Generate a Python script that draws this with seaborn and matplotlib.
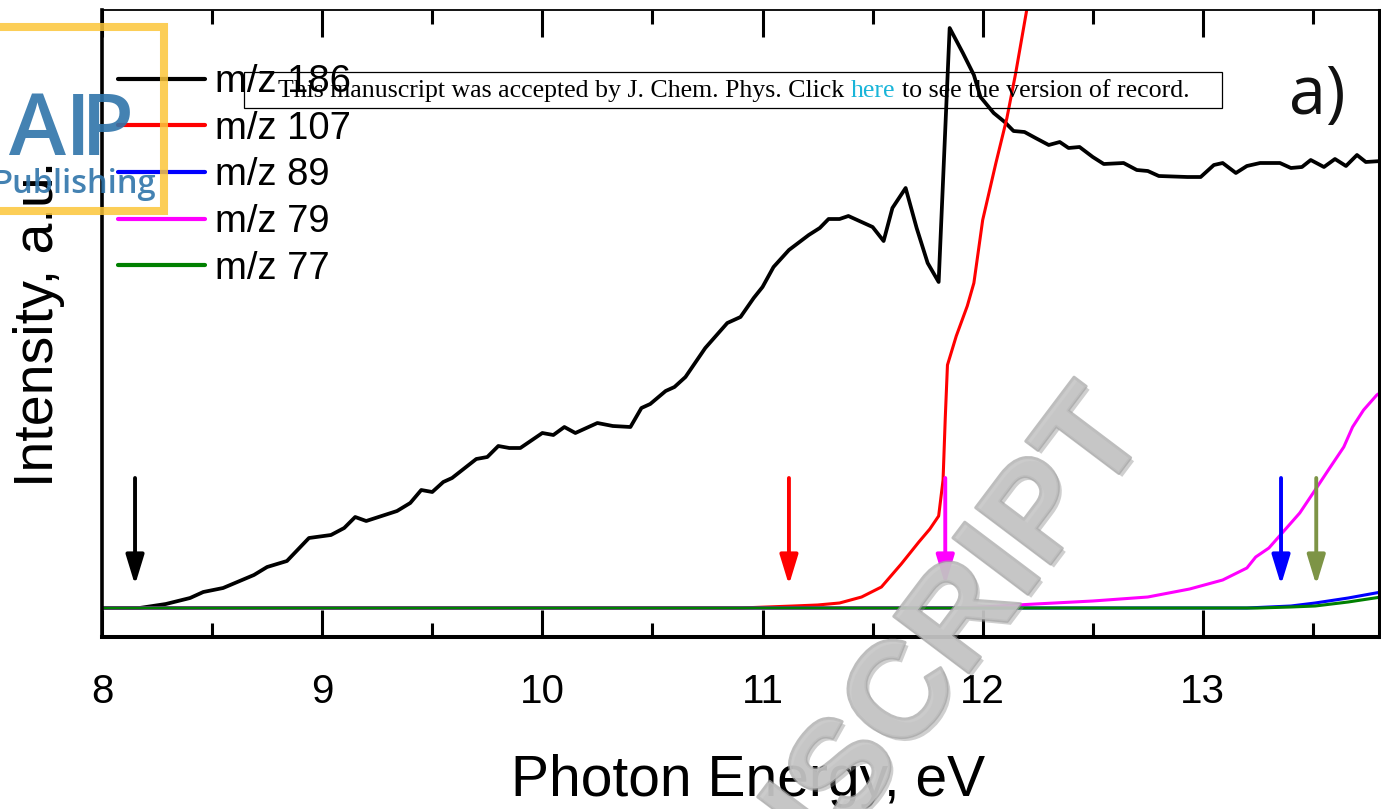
import matplotlib
matplotlib.use("Agg")
import numpy as np
import pandas as pd
import seaborn as sns
import matplotlib.pyplot as plt
from matplotlib.ticker import MultipleLocator
from matplotlib.lines import Line2D
from matplotlib.patches import Rectangle
import matplotlib.patheffects as pe

sns.set_theme(style="ticks")
plt.rcParams["font.family"] = ["Liberation Sans", "DejaVu Sans"]
plt.rcParams["text.color"] = "black"
plt.rcParams["axes.labelcolor"] = "black"
plt.rcParams["xtick.color"] = "black"

# ---- photoionization yield curves (photon energy in eV, intensity in a.u.) ----
energy_186 = [8.00, 8.17, 8.29, 8.40, 8.46, 8.55, 8.69, 8.75, 8.84, 8.94, 9.04, 9.10,
              9.15, 9.20, 9.34, 9.40, 9.45, 9.50, 9.55, 9.59, 9.70, 9.75, 9.80, 9.85,
              9.90, 10.00, 10.05, 10.10, 10.15, 10.25, 10.32, 10.40, 10.45, 10.49, 10.56,
              10.60, 10.65, 10.74, 10.84, 10.90, 10.96, 11.00, 11.05, 11.12, 11.21, 11.26,
              11.30, 11.35, 11.39, 11.46, 11.50, 11.55, 11.59, 11.65, 11.70, 11.75, 11.80,
              11.85, 11.91, 11.96, 11.99, 12.05, 12.10, 12.14, 12.19, 12.24, 12.30, 12.35,
              12.39, 12.44, 12.50, 12.55, 12.64, 12.70, 12.75, 12.80, 12.93, 12.99, 13.05,
              13.09, 13.15, 13.20, 13.26, 13.35, 13.40, 13.45, 13.49, 13.55, 13.60, 13.65,
              13.70, 13.74, 13.81]
signal_186 = [0.00, 0.00, 0.04, 0.10, 0.16, 0.20, 0.33, 0.41, 0.47, 0.70, 0.73, 0.80,
              0.91, 0.87, 0.97, 1.05, 1.18, 1.16, 1.26, 1.30, 1.49, 1.51, 1.62, 1.60,
              1.60, 1.75, 1.73, 1.81, 1.75, 1.85, 1.82, 1.81, 2.00, 2.04, 2.17,
              2.21, 2.31, 2.60, 2.85, 2.91, 3.10, 3.21, 3.41, 3.58, 3.73, 3.80,
              3.89, 3.89, 3.92, 3.85, 3.81, 3.67, 4.00, 4.20, 3.80, 3.45, 3.26,
              5.80, 5.55, 5.33, 5.11, 4.95, 4.86, 4.77, 4.76, 4.70, 4.63, 4.66,
              4.60, 4.61, 4.51, 4.44, 4.45, 4.38, 4.37, 4.32, 4.31, 4.31, 4.43,
              4.45, 4.35, 4.42, 4.45, 4.45, 4.40, 4.41, 4.48, 4.41, 4.49, 4.42,
              4.53, 4.46, 4.47]

energy_107 = [8.00, 10.00, 10.90, 11.02, 11.14, 11.25, 11.35, 11.45, 11.54, 11.63, 11.71,
              11.76, 11.80, 11.82, 11.83, 11.84, 11.88, 11.93, 11.96, 12.00, 12.06, 12.11,
              12.15, 12.20, 12.25]
signal_107 = [0.00, 0.00, 0.00, 0.01, 0.02, 0.03, 0.05, 0.11, 0.21, 0.44, 0.66,
              0.79, 0.92, 1.28, 1.90, 2.43, 2.72, 3.02, 3.25, 3.88, 4.45, 4.90,
              5.35, 5.98, 6.50]

energy_89 = [8.00, 13.20, 13.40, 13.51, 13.66, 13.81]
signal_89 = [0.00, 0.00, 0.02, 0.05, 0.10, 0.16]

energy_79 = [8.00, 11.90, 11.99, 12.24, 12.50, 12.75, 12.94, 13.09, 13.20, 13.24, 13.30,
             13.36, 13.44, 13.51, 13.57, 13.64, 13.68, 13.73, 13.79, 13.81]
signal_79 = [0.00, 0.00, 0.01, 0.04, 0.07, 0.11, 0.19, 0.28, 0.40, 0.51, 0.60,
             0.75, 0.95, 1.18, 1.38, 1.61, 1.81, 1.98, 2.13, 2.16]

energy_77 = [8.00, 13.25, 13.40, 13.51, 13.66, 13.81]
signal_77 = [0.00, 0.00, 0.01, 0.02, 0.06, 0.11]

ion_labels = ["m/z 186", "m/z 107", "m/z 89", "m/z 79", "m/z 77"]
ion_colors = ["#000000", "#ff0000", "#0000ff", "#ff00ff", "#008000"]

# appearance energies marked with arrows
onset_energy = [8.15, 11.12, 11.83, 13.355, 13.515]
onset_colors = ["#000000", "#ff0000", "#ff00ff", "#0000ff", "#7d9446"]

x_ticks = [8, 9, 10, 11, 12, 13]

# ---- long-form table for seaborn ----
frames = []
for lab, xs, ys in zip(ion_labels,
                       [energy_186, energy_107, energy_89, energy_79, energy_77],
                       [signal_186, signal_107, signal_89, signal_79, signal_77]):
    frames.append(pd.DataFrame({"energy": xs, "intensity": ys, "ion": lab}))
df = pd.concat(frames, ignore_index=True)

W, H, DPI = 1381, 809, 100
fig = plt.figure(figsize=(W / DPI, H / DPI), dpi=DPI)
fig.patch.set_facecolor("white")


def fpos(x, y):
    """pixel position (origin top-left) -> figure fraction"""
    return x / W, 1 - y / H


ax = fig.add_axes([102 / W, 1 - 637 / H, 1277 / W, 627 / H])
ax.set_facecolor("white")

sns.lineplot(data=df, x="energy", y="intensity", hue="ion", hue_order=ion_labels,
             palette=dict(zip(ion_labels, ion_colors)), estimator=None, sort=False,
             linewidth=2.3, legend=False, ax=ax)
for line, lab in zip(ax.get_lines(), ion_labels):
    line.set_linewidth(2.7 if lab == "m/z 186" else 2.2)
    line.set_solid_joinstyle("round")

ax.set_xlim(8, 13.8)
ax.set_ylim(-0.29, 5.98)

# onset arrows
for xe, c in zip(onset_energy, onset_colors):
    ax.annotate("", xy=(xe, 0.23), xytext=(xe, 1.30),
                arrowprops=dict(arrowstyle="-|>,head_length=1.8,head_width=0.55",
                                color=c, lw=2.8, shrinkA=0, shrinkB=0,
                                mutation_scale=10),
                zorder=5)

# axes, ticks
ax.set_xticks(x_ticks)
ax.xaxis.set_minor_locator(MultipleLocator(0.5))
ax.set_yticks([])
ax.tick_params(axis="x", which="both", direction="in", top=True, bottom=True,
               width=2.2, color="black", labelcolor="black", labelsize=29, pad=26)
ax.tick_params(axis="x", which="major", length=19.5)
ax.tick_params(axis="x", which="minor", length=10)
for side, lw in [("left", 2.6), ("bottom", 2.9), ("right", 2.2), ("top", 1.3)]:
    ax.spines[side].set_visible(True)
    ax.spines[side].set_color("black")
    ax.spines[side].set_linewidth(lw)

ax.set_xlabel("Photon Energy, eV", fontsize=41, color="black")
ax.xaxis.set_label_coords(0.506, -0.186)
ax.xaxis.label.set_verticalalignment("top")
ax.set_ylabel("Intensity, a.u.", fontsize=40, color="black")
ax.yaxis.set_label_coords(-0.029, 0.5)

handles = [Line2D([0], [0], color=c, lw=3.0) for c in ion_colors]
leg = ax.legend(handles, ion_labels, loc="upper left", bbox_to_anchor=(0.0125, 0.914),
                frameon=False, fontsize=27.5, handlelength=2.28, handletextpad=0.26,
                labelspacing=0.28, borderpad=0, borderaxespad=0)
for t in leg.get_texts():
    t.set_color("black")

# panel tag
fig.text(*fpos(1289, 114), "a)", fontsize=48, family="Open Sans", color="#111111",
         ha="left", va="baseline")

# ---- publisher overlays ----
# acceptance notice box
fig.add_artist(Rectangle(fpos(244, 108), (1222 - 244) / W, 36 / H,
                         transform=fig.transFigure, fill=False, ec="black", lw=0.9,
                         zorder=30))
notice_parts = [("This manuscript was accepted by J. Chem. Phys. Click", "black"),
                ("here", "#19b5d9"),
                ("to see the version of record.", "black")]
renderer = fig.canvas.get_renderer()


def lay_out_notice(fs, x_start, baseline):
    probe = fig.text(0, 0, "aa", fontsize=fs, family="Liberation Serif")
    w_aa = probe.get_window_extent(renderer).width
    probe.set_text("a a")
    space_w = probe.get_window_extent(renderer).width - w_aa
    probe.remove()
    x_cursor = x_start
    made = []
    for txt, col in notice_parts:
        t = fig.text(*fpos(x_cursor, baseline), txt, fontsize=fs,
                     family="Liberation Serif", color=col, ha="left",
                     va="baseline", zorder=31)
        made.append(t)
        x_cursor += t.get_window_extent(renderer).width + space_w
    return made, x_cursor - space_w - x_start


made, span = lay_out_notice(18.0, 278, 97)
fs_fit = 18.0 * 912.0 / span
for t in made:
    t.remove()
lay_out_notice(fs_fit, 278, 97)

# AIP Publishing logo
fig.add_artist(Rectangle(fpos(-20, 211), 184 / W, (211 - 27) / H,
                         transform=fig.transFigure, fill=False, ec="#fcc63a",
                         lw=5.8, alpha=0.85, zorder=32))
logo_blue = "#2f74aa"
for letter, xl, ha in [("A", 66, "right"), ("I", 78, "center"), ("P", 134, "right")]:
    fig.text(*fpos(xl, 155), letter, fontsize=62, family="Open Sans",
             fontweight="semibold", color=logo_blue, alpha=0.9, ha=ha,
             va="baseline", zorder=33)
fig.text(*fpos(156, 193), "Publishing", fontsize=23.5, family="Open Sans",
         fontweight="semibold", color=logo_blue, alpha=0.9, ha="right",
         va="baseline", zorder=33)

# diagonal watermark
fig.text(*fpos(1150, 432), "ACCEPTED MANUSCRIPT", fontsize=98,
         family="Liberation Sans", fontweight="bold", color="#c6c6c6", alpha=0.7,
         rotation=53, rotation_mode="anchor", ha="right", va="baseline", zorder=40,
         path_effects=[pe.SimplePatchShadow(offset=(2.5, -2.5), shadow_rgbFace="#888888",
                                            alpha=0.4),
                       pe.Stroke(linewidth=2.2, foreground="#a3a3a3"),
                       pe.Normal()])

fig.savefig("out.png", dpi=DPI, facecolor="white")
